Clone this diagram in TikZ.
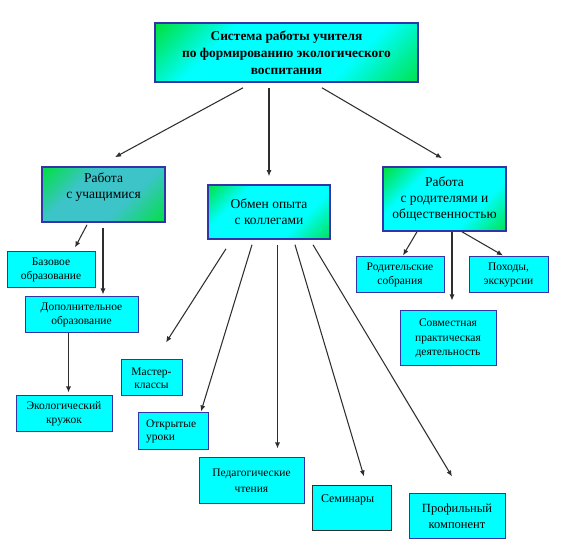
\documentclass[tikz,border=0pt]{standalone}
\usepackage{fontspec}
\setmainfont{Liberation Serif}
\usetikzlibrary{arrows.meta}
\definecolor{bord}{HTML}{3333AA}
\definecolor{aqua}{HTML}{00FFFF}
\definecolor{lime}{HTML}{00E040}
\definecolor{teal2}{HTML}{3CC4C8}
\definecolor{arrc}{HTML}{2E2E2E}
\pgfdeclarehorizontalshading{gcg}{100bp}{color(0bp)=(lime); color(15bp)=(lime); color(33bp)=(aqua); color(66bp)=(aqua); color(87bp)=(lime); color(100bp)=(lime)}
\pgfdeclarehorizontalshading{gtg}{100bp}{color(0bp)=(lime); color(15bp)=(lime); color(36bp)=(teal2); color(62bp)=(teal2); color(86bp)=(lime); color(100bp)=(lime)}
\pgfdeclarehorizontalshading{gcc}{100bp}{color(0bp)=(lime); color(14bp)=(lime); color(32bp)=(aqua); color(66bp)=(aqua); color(88bp)=(lime); color(100bp)=(lime)}
\tikzset{
  bigbox/.style={draw=bord, line width=1.6pt, align=center, inner sep=0pt, font=\fontsize{13.5}{16}\selectfont},
  smallbox/.style={draw=bord, line width=1pt, fill=aqua, align=center, inner sep=0pt, font=\fontsize{11.5}{14}\selectfont},
  arr/.style={draw=arrc, line width=1.05pt, -{Latex[length=6pt,width=5pt]}}
}
\begin{document}
\begin{tikzpicture}[x=1pt,y=-1pt]
\useasboundingbox[fill=white] (0,0) rectangle (563,553);
% main boxes
\node[bigbox, minimum width=263pt, minimum height=59pt, shading=gcg, shading angle=-45,
      font=\bfseries\fontsize{13.4}{17}\selectfont]
  (top) at (286.5,52.5) {Система работы учителя\\по формированию экологического\\воспитания};
\node[bigbox, minimum width=123pt, minimum height=55pt, shading=gtg, shading angle=-45]
  (uch) at (103.5,194.5) {Работа\\с учащимися\\[2pt]};
\node[bigbox, minimum width=122pt, minimum height=54pt, shading=gcc, shading angle=-45]
  (obm) at (269,212) {Обмен опыта\\с коллегами};
\node[bigbox, minimum width=123pt, minimum height=64pt, shading=gcg, shading angle=-45]
  (rod) at (444.5,199) {Работа\\с родителями и\\общественностью};
% small boxes
\node[smallbox, minimum width=88pt, minimum height=36pt] (baz) at (51,270) {Базовое\\образование};
\node[smallbox, minimum width=113pt, minimum height=36pt] (dop) at (81.5,315) {Дополнительное\\образование};
\node[smallbox, minimum width=96pt, minimum height=36pt] (eko) at (64,414) {Экологический\\кружок};
\node[smallbox, minimum width=61pt, minimum height=36pt, font=\fontsize{11.5}{13}\selectfont] (mas) at (151.5,378) {Мастер-\\классы};
\node[smallbox, minimum width=70pt, minimum height=37pt, align=left, text width=54pt, inner xsep=8pt, font=\fontsize{11.5}{13}\selectfont] (otk) at (173,431.5) {Открытые\\уроки};
\node[smallbox, minimum width=105pt, minimum height=46pt, font=\fontsize{11.5}{16}\selectfont] (ped) at (251.5,481) {Педагогические\\чтения};
\node[smallbox, draw=arrc, minimum width=79pt, minimum height=45pt, align=left, text width=61pt, inner xsep=9pt, inner ysep=9pt, text height=8pt, text depth=19pt, font=\fontsize{12}{14}\selectfont] (sem) at (351.5,508.5) {Семинары};
\node[smallbox, minimum width=96pt, minimum height=45pt, font=\fontsize{12.5}{16}\selectfont] (pro) at (457,516.5) {Профильный\\компонент};
\node[smallbox, minimum width=88pt, minimum height=36pt] (ros) at (400,275) {Родительские\\собрания};
\node[smallbox, minimum width=79pt, minimum height=36pt] (poh) at (508.5,275) {Походы,\\экскурсии};
\node[smallbox, minimum width=96pt, minimum height=55pt, font=\fontsize{11.5}{14.5}\selectfont] (sov) at (448,338.5) {Совместная\\практическая\\деятельность};
% connectors
\draw[arr] ([xshift=-43.5pt,yshift=-5pt]top.south) -- ([xshift=11.5pt,yshift=9pt]uch.north);
\draw[arr] ([xshift=-17.5pt,yshift=-5pt]top.south) -- ([xshift=0pt,yshift=8pt]obm.north);
\draw[arr] ([xshift=35.5pt,yshift=-5pt]top.south) -- ([xshift=-2.5pt,yshift=8pt]rod.north);
\draw[arr] ([xshift=-16.5pt,yshift=-2pt]uch.south) -- ([xshift=24pt,yshift=4pt]baz.north);
\draw[arr] ([xshift=-0.5pt,yshift=-5pt]uch.south) -- ([xshift=21.5pt,yshift=2pt]dop.north);
\draw[arr] ([xshift=-13pt]dop.south) -- ([xshift=4.5pt,yshift=3pt]eko.north);
\draw[arr] ([xshift=-43pt,yshift=-9pt]obm.south) -- ([xshift=14.5pt,yshift=17pt]mas.north);
\draw[arr] ([xshift=-17pt,yshift=-5pt]obm.south) -- ([xshift=28pt,yshift=1pt]otk.north);
\draw[arr] ([xshift=8.5pt,yshift=-5pt]obm.south) -- ([xshift=26pt,yshift=9pt]ped.north);
\draw[arr] ([xshift=26pt,yshift=-5pt]obm.south) -- ([xshift=12.5pt,yshift=9pt]sem.north);
\draw[arr] ([xshift=44pt,yshift=-5pt]obm.south) -- ([xshift=-5pt,yshift=17pt]pro.north);
\draw[arr] ([xshift=-27.5pt]rod.south) -- ([xshift=3pt,yshift=1pt]ros.north);
\draw[arr] ([xshift=7.5pt]rod.south) -- ([xshift=4pt,yshift=10pt]sov.north);
\draw[arr] ([xshift=17.5pt]rod.south) -- ([xshift=-5.5pt,yshift=1pt]poh.north);
\end{tikzpicture}
\end{document}
